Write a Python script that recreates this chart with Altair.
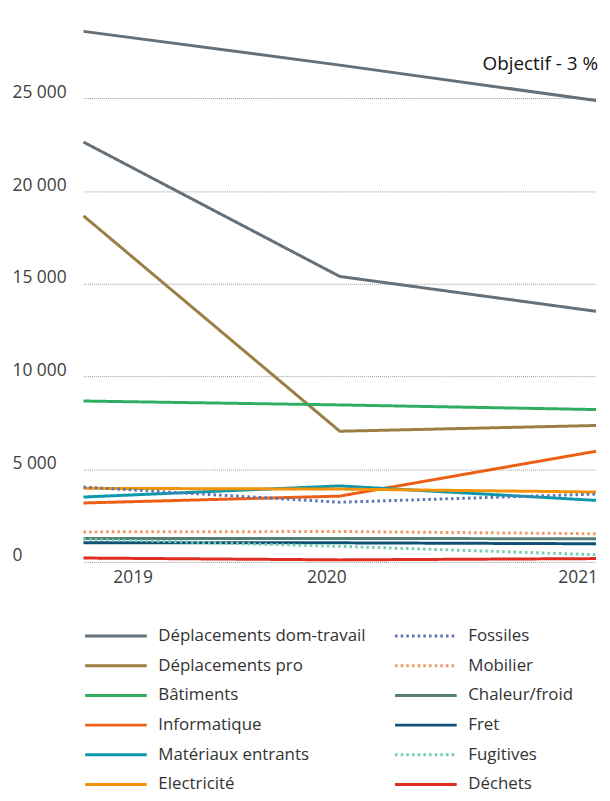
import altair as alt
import pandas as pd

# ---------------- data ----------------
years = [2019, 2020, 2021]
year_labels = ["2019", "2020", "2021"]
series = [
    "Déplacements dom-travail", "Déplacements pro", "Bâtiments", "Informatique",
    "Matériaux entrants", "Electricité", "Fossiles", "Mobilier",
    "Chaleur/froid", "Fret", "Fugitives", "Déchets",
]
dom_travail = [22650, 15400, 13520]
dep_pro = [18670, 7050, 7360]
batiments = [8680, 8470, 8220]
informatique = [3180, 3550, 5970]
materiaux = [3500, 4100, 3320]
electricite = [3970, 3930, 3770]
fossiles = [4040, 3220, 3660]
mobilier = [1620, 1640, 1520]
chaleur = [1265, 1265, 1250]
fret = [1030, 1030, 980]
fugitives = [1230, 840, 390]
dechets = [210, 110, 180]
values = [dom_travail, dep_pro, batiments, informatique, materiaux, electricite,
          fossiles, mobilier, chaleur, fret, fugitives, dechets]

objectif = [28620, 26800, 24890]
objectif_label = "Objectif - 3 %"

colors = ["#667078", "#9b7f45", "#2fae62", "#eb6015", "#0b98ab", "#f2930a",
          "#5a74b5", "#f59464", "#537f76", "#0f5275", "#6fcdb0", "#e02b20"]
dotted = ["Fossiles", "Mobilier", "Fugitives"]
dashes = [[2.5, 3.2] if s in dotted else [1, 0] for s in series]
y_ticks = [0, 5000, 10000, 15000, 20000, 25000]

rows = []
for name, vals in zip(series, values):
    for yr, v in zip(years, vals):
        rows.append({"annee": yr, "valeur": v, "serie": name})
df = pd.DataFrame(rows)
df_obj = pd.DataFrame({"annee": years, "valeur": objectif})
df_lab = pd.DataFrame({"annee": [years[-1]], "valeur": [objectif[-1]], "txt": [objectif_label]})
df_years = pd.DataFrame({"annee": years, "txt": year_labels})

FONT = "Open Sans"
W, H = 516, 555

x_scale = alt.Scale(domain=[years[0], years[-1]], nice=False, zero=False)
y_scale = alt.Scale(domain=[0, 29740], nice=False)

x_axis = alt.Axis(values=years, title=None, domain=False, ticks=False, grid=False, labels=False)
y_axis = alt.Axis(
    values=y_ticks, title=None, domain=False, ticks=False, tickSize=0,
    labelExpr="replace(format(datum.value, ','), ',', ' ')",
    labelFont=FONT, labelFontSize=17.5, labelColor="#404040",
    labelAlign="left", labelBaseline="middle", labelPadding=72, labelOffset=-6,
    grid=True, gridColor="#9a9a9a", gridDash=[1, 1], gridWidth=1,
)

legend = alt.Legend(
    orient="none", legendX=0, legendY=617.6, columns=2, title=None,
    symbolType="M-1,0H5", symbolSize=428, symbolStrokeWidth=3,
    labelOffset=51.3, rowPadding=9.9, columnPadding=22, padding=0,
    labelFont=FONT, labelFontSize=17, labelColor="#333333", labelLimit=0,
)

lines = alt.Chart(df).mark_line(strokeWidth=3).encode(
    x=alt.X("annee:Q", scale=x_scale, axis=x_axis),
    y=alt.Y("valeur:Q", scale=y_scale, axis=y_axis),
    color=alt.Color("serie:N", scale=alt.Scale(domain=series, range=colors), legend=legend),
    strokeDash=alt.StrokeDash("serie:N", scale=alt.Scale(domain=series, range=dashes), legend=legend),
)

obj_line = alt.Chart(df_obj).mark_line(strokeWidth=3, color=colors[0]).encode(
    x=alt.X("annee:Q", scale=x_scale, axis=x_axis),
    y=alt.Y("valeur:Q", scale=y_scale, axis=y_axis),
)

obj_text = alt.Chart(df_lab).mark_text(
    align="right", baseline="middle", dy=-37, dx=2, font=FONT, fontSize=19, color="#111111"
).encode(
    x=alt.X("annee:Q", scale=x_scale, axis=x_axis),
    y=alt.Y("valeur:Q", scale=y_scale, axis=y_axis),
    text="txt:N",
)

year_text = alt.Chart(df_years).mark_text(
    align="center", baseline="middle", font=FONT, fontSize=17.5, color="#404040",
    dx=alt.ExprRef("datum.annee == 2019 ? 50 : (datum.annee == 2020 ? -13 : -18)"),
).encode(
    x=alt.X("annee:Q", scale=x_scale, axis=x_axis),
    y=alt.value(H + 16),
    text="txt:N",
)

chart = alt.layer(lines, obj_line, obj_text, year_text).properties(
    width=W, height=H, background="white",
    padding={"left": 4, "top": 0, "right": 0, "bottom": 0},
).configure_view(stroke=None, strokeWidth=0).configure_axisX(grid=False)

chart.save("out.html", embed_options={"renderer": "svg", "actions": False})
